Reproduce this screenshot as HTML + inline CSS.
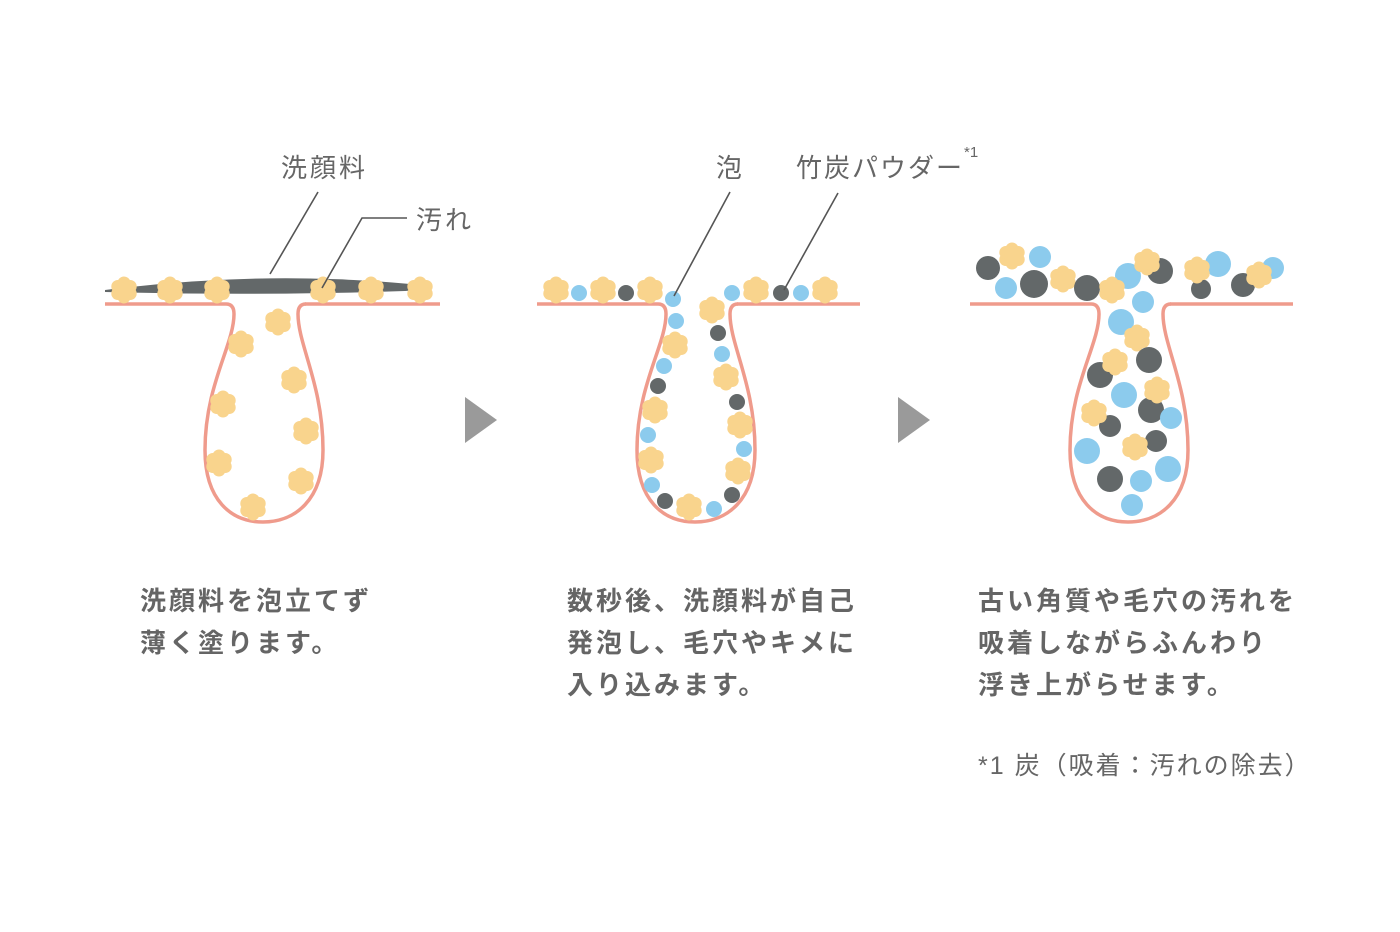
<!DOCTYPE html>
<html><head><meta charset="utf-8"><style>
html,body{margin:0;padding:0;background:#fff;}
body{width:1400px;height:932px;overflow:hidden;position:relative;font-family:"Liberation Sans","Noto Sans CJK JP",sans-serif;}
.t{position:absolute;color:#656565;font-size:26px;font-weight:bold;line-height:42px;letter-spacing:3px;white-space:nowrap;}
.l{position:absolute;color:#666;font-size:26px;letter-spacing:3px;white-space:nowrap;}
</style></head><body>
<svg width="1400" height="932" style="position:absolute;left:0;top:0">
<defs>
<g id="f"><circle cx="0" cy="-7" r="6.5" fill="#f9d48d"/><circle cx="6.2" cy="-3.5" r="6.5" fill="#f9d48d"/><circle cx="6.2" cy="3.5" r="6.5" fill="#f9d48d"/><circle cx="0" cy="7" r="6.5" fill="#f9d48d"/><circle cx="-6.2" cy="3.5" r="6.5" fill="#f9d48d"/><circle cx="-6.2" cy="-3.5" r="6.5" fill="#f9d48d"/><circle r="8" fill="#f9d48d"/></g>
<path id="p" d="M0,304 H121 Q129,304 129,314 C129,345 100,385 100,450 C100,500 126,522 158,522 C190,522 218,500 218,450 C218,385 193,345 193,314 Q193,304 201,304" fill="none" stroke="#ef9b8c" stroke-width="3.5"/>
</defs>
<!-- panel 1 -->
<path d="M105,290 Q260,270 410,284 Q418,290 405,291 Q260,296 105,292Z" fill="#636869"/>
<use href="#p" x="105"/><line x1="305" y1="304" x2="440" y2="304" stroke="#ef9b8c" stroke-width="3.5"/>
<g>
<use href="#f" x="124" y="290"/><use href="#f" x="170" y="290"/><use href="#f" x="217" y="290"/><use href="#f" x="323" y="290"/><use href="#f" x="371" y="290"/><use href="#f" x="420" y="290"/>
<use href="#f" x="278" y="322"/><use href="#f" x="241" y="344"/><use href="#f" x="294" y="380"/><use href="#f" x="223" y="404"/><use href="#f" x="306" y="431"/><use href="#f" x="219" y="463"/><use href="#f" x="301" y="481"/><use href="#f" x="253" y="507"/>
</g>
<line x1="318" y1="192" x2="270" y2="274" stroke="#555" stroke-width="1.6"/>
<polyline points="407,218 362,218 322,288" fill="none" stroke="#555" stroke-width="1.6"/>
<!-- arrows -->
<polygon points="465,397 497,420 465,443" fill="#9a9a9a"/>
<polygon points="898,397 930,420 898,443" fill="#9a9a9a"/>
<!-- panel 2 -->
<use href="#p" x="537"/><line x1="737" y1="304" x2="860" y2="304" stroke="#ef9b8c" stroke-width="3.5"/>
<use href="#f" x="556" y="290"/><circle cx="579" cy="293" r="8" fill="#8ccbed"/><use href="#f" x="603" y="290"/><circle cx="626" cy="293" r="8" fill="#636869"/><use href="#f" x="650" y="290"/>
<circle cx="673" cy="299" r="8" fill="#8ccbed"/><circle cx="676" cy="321" r="8" fill="#8ccbed"/><use href="#f" x="675" y="345"/><circle cx="664" cy="366" r="8" fill="#8ccbed"/><circle cx="658" cy="386" r="8" fill="#636869"/><use href="#f" x="655" y="410"/><circle cx="648" cy="435" r="8" fill="#8ccbed"/><use href="#f" x="651" y="460"/><circle cx="652" cy="485" r="8" fill="#8ccbed"/><circle cx="665" cy="501" r="8" fill="#636869"/><use href="#f" x="689" y="507"/><circle cx="714" cy="509" r="8" fill="#8ccbed"/><circle cx="732" cy="495" r="8" fill="#636869"/>
<use href="#f" x="712" y="310"/><circle cx="718" cy="333" r="8" fill="#636869"/><circle cx="722" cy="354" r="8" fill="#8ccbed"/><use href="#f" x="726" y="377"/><circle cx="737" cy="402" r="8" fill="#636869"/><use href="#f" x="740" y="425"/><circle cx="744" cy="449" r="8" fill="#8ccbed"/><use href="#f" x="738" y="471"/>
<circle cx="732" cy="293" r="8" fill="#8ccbed"/><use href="#f" x="756" y="290"/><circle cx="781" cy="293" r="8" fill="#636869"/><circle cx="801" cy="293" r="8" fill="#8ccbed"/><use href="#f" x="825" y="290"/>
<line x1="730" y1="192" x2="674" y2="296" stroke="#555" stroke-width="1.6"/>
<line x1="838" y1="193" x2="784" y2="290" stroke="#555" stroke-width="1.6"/>
<!-- panel 3 -->
<use href="#p" x="970"/><line x1="1170" y1="304" x2="1293" y2="304" stroke="#ef9b8c" stroke-width="3.5"/>
<circle cx="988" cy="268" r="12" fill="#636869"/><circle cx="1006" cy="288" r="11" fill="#8ccbed"/><use href="#f" x="1012" y="256"/><circle cx="1040" cy="257" r="11" fill="#8ccbed"/><circle cx="1034" cy="284" r="14" fill="#636869"/><use href="#f" x="1063" y="279"/><circle cx="1087" cy="288" r="13" fill="#636869"/>
<circle cx="1128" cy="276" r="13" fill="#8ccbed"/><circle cx="1160" cy="271" r="13" fill="#636869"/><use href="#f" x="1147" y="262"/><use href="#f" x="1112" y="290"/>
<circle cx="1143" cy="302" r="11" fill="#8ccbed"/><circle cx="1121" cy="322" r="13" fill="#8ccbed"/><use href="#f" x="1137" y="338"/><circle cx="1149" cy="360" r="13" fill="#636869"/><circle cx="1100" cy="375" r="13" fill="#636869"/><use href="#f" x="1115" y="362"/><circle cx="1124" cy="395" r="13" fill="#8ccbed"/><circle cx="1151" cy="410" r="13" fill="#636869"/><use href="#f" x="1157" y="390"/><circle cx="1171" cy="418" r="11" fill="#8ccbed"/>
<circle cx="1110" cy="426" r="11" fill="#636869"/><use href="#f" x="1094" y="413"/><circle cx="1156" cy="441" r="11" fill="#636869"/><use href="#f" x="1135" y="447"/><circle cx="1087" cy="451" r="13" fill="#8ccbed"/><circle cx="1168" cy="469" r="13" fill="#8ccbed"/><circle cx="1110" cy="479" r="13" fill="#636869"/><circle cx="1141" cy="481" r="11" fill="#8ccbed"/><circle cx="1132" cy="505" r="11" fill="#8ccbed"/>
<circle cx="1218" cy="264" r="13" fill="#8ccbed"/><circle cx="1201" cy="289" r="10" fill="#636869"/><use href="#f" x="1197" y="270"/><circle cx="1273" cy="268" r="11" fill="#8ccbed"/><circle cx="1243" cy="285" r="12" fill="#636869"/><use href="#f" x="1259" y="275"/>
</svg>
<div class="l" style="left:281px;top:148px">洗顔料</div>
<div class="l" style="left:416px;top:200px">汚れ</div>
<div class="l" style="left:716px;top:148px">泡</div>
<div class="l" style="left:796px;top:148px;letter-spacing:2px">竹炭パウダー<span style="font-size:15px;vertical-align:top;position:relative;top:-4px;letter-spacing:0">*1</span></div>
<div class="t" style="left:140px;top:580px">洗顔料を泡立てず<br>薄く塗ります。</div>
<div class="t" style="left:567px;top:580px">数秒後、洗顔料が自己<br>発泡し、毛穴やキメに<br>入り込みます。</div>
<div class="t" style="left:978px;top:580px">古い角質や毛穴の汚れを<br>吸着しながらふんわり<br>浮き上がらせます。</div>
<div class="l" style="left:978px;top:746px;font-size:25px;letter-spacing:2px">*1 炭（吸着：汚れの除去）</div>
</body></html>
